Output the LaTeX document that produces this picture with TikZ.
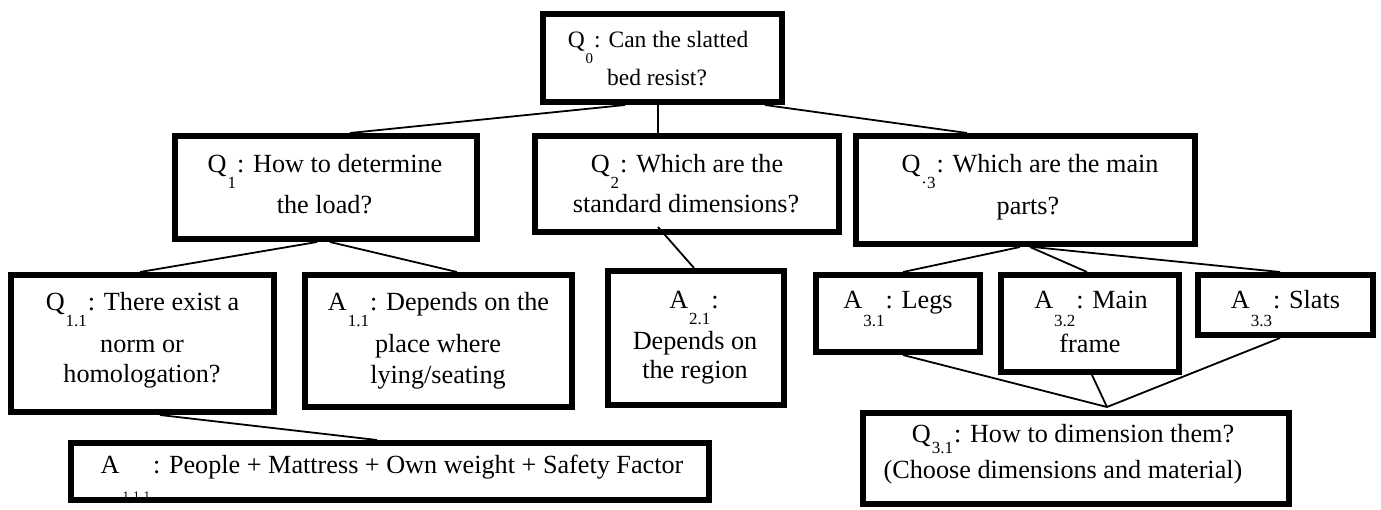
\documentclass[tikz,border=0pt]{standalone}
\usepackage{fontspec}
\setmainfont{Liberation Serif}
\usetikzlibrary{calc}
\newcommand\mainfs{\fontsize{26.2}{30}\selectfont}
\newcommand\topfs{\fontsize{23.5}{28}\selectfont}
\newcommand\sbx[2][16pt]{\kern1pt\raisebox{-#1}[0pt][0pt]{\fontsize{17}{17}\selectfont #2}\kern1pt}
\newcommand\sbxs[1]{\kern1pt\raisebox{-16pt}[0pt][0pt]{\fontsize{15}{15}\selectfont #1}\kern1pt}
\newcommand\sbxl[1]{\kern3pt\raisebox{-27pt}[0pt][0pt]{\fontsize{13}{13}\selectfont #1}\kern3pt}
\tikzset{
  box/.style={draw=black, line width=6pt, inner sep=0pt, outer sep=3pt, anchor=north west},
  tx/.style={anchor=base, inner sep=0pt, font=\mainfs},
  conn/.style={draw=black, line width=1.8pt}
}
\begin{document}
\begin{tikzpicture}[x=1pt,y=-1pt]
\useasboundingbox (0,0) rectangle (1381,509);
% texts
\node[tx, font=\topfs] (q0a) at (658,47) {Q\sbxs{0}: Can the slatted};
\node[tx, font=\topfs] (q0b) at (657,85) {bed resist?};
\node[tx] (q1a) at (325,172) {Q\sbx{1}: How to determine};
\node[tx] (q1b) at (324.5,213) {the load?};
\node[tx] (q2a) at (687,172) {Q\sbx{2}: Which are the};
\node[tx] (q2b) at (686,212) {standard dimensions?};
\node[tx] (q3a) at (1030,172) {Q\sbx{·3}: Which are the main};
\node[tx] (q3b) at (1028,214) {parts?};
\node[tx] (q11a) at (142.5,310) {Q\sbx{1.1}: There exist a};
\node[tx] (q11b) at (142,352) {norm or};
\node[tx] (q11c) at (142,382) {homologation?};
\node[tx] (a11a) at (438.5,310) {A\sbx{1.1}: Depends on the};
\node[tx] (a11b) at (438,352) {place where};
\node[tx] (a11c) at (438,383) {lying/seating};
\node[tx] (a21a) at (694,308) {A\sbx{2.1}:};
\node[tx] (a21b) at (695,349) {Depends on};
\node[tx] (a21c) at (695,378) {the region};
\node[tx] (a31a) at (898,308) {A\sbx[18pt]{3.1}: Legs};
\node[tx] (a32a) at (1091,308) {A\sbx[18pt]{3.2}: Main};
\node[tx] (a32b) at (1090,352) {frame};
\node[tx] (a33a) at (1285.5,308) {A\sbx[18pt]{3.3}: Slats};
\node[tx] (a111a) at (392,473) {A\sbxl{1\kern4pt 1\kern4pt 1}: People + Mattress + Own weight + Safety Factor};
\node[tx] (q31a) at (1073,442) {Q\sbx[11pt]{3.1}: How to dimension them?};
\node[tx] (q31b) at (1063,478) {(Choose dimensions and material)};
% boxes
\node[box, minimum width=239pt, minimum height=88pt] (q0) at (540,11) {};
\node[box, minimum width=302pt, minimum height=103pt] (q1) at (172,133) {};
\node[box, minimum width=304pt, minimum height=96pt] (q2) at (532,133) {};
\node[box, minimum width=339pt, minimum height=108pt] (q3) at (853,133) {};
\node[box, minimum width=263pt, minimum height=137pt] (q11) at (8,272) {};
\node[box, minimum width=267pt, minimum height=132pt] (a11) at (302,272) {};
\node[box, minimum width=176pt, minimum height=134pt] (a21) at (605,268) {};
\node[box, minimum width=164pt, minimum height=77pt] (a31) at (813,272) {};
\node[box, minimum width=178pt, minimum height=97pt] (a32) at (998,272) {};
\node[box, minimum width=175pt, minimum height=60pt] (a33) at (1195,272) {};
\node[box, minimum width=638pt, minimum height=57pt] (a111) at (68,440) {};
\node[box, minimum width=426pt, minimum height=91pt] (q31) at (860,410) {};
\coordinate (m31) at (1107,407);
% connectors
\draw[conn] (q0.south -| 625,0) -- (q1.north -| 350,0);
\draw[conn] (q0.south -| 658,0) -- (q2.north -| 658,0);
\draw[conn] (q0.south -| 765,0) -- (q3.north -| 967,0);
\draw[conn] (q1.south -| 317,0) -- (q11.north -| 140,0);
\draw[conn] (q1.south -| 330,0) -- (a11.north -| 457,0);
\draw[conn] ($(q2.south -| 658,0)+(0,-8)$) -- (a21.north -| 694,0);
\draw[conn] (q11.south -| 160,0) -- (a111.north -| 377,0);
\draw[conn] (q3.south -| 1020,0) -- (a31.north -| 903,0);
\draw[conn] (q3.south -| 1030,0) -- (a32.north -| 1087,0);
\draw[conn] (q3.south -| 1033,0) -- (a33.north -| 1280,0);
\draw[conn] (a31.south -| 903,0) -- (m31);
\draw[conn] (a32.south -| 1092,0) -- (m31);
\draw[conn] (a33.south -| 1280,0) -- (m31);
\end{tikzpicture}
\end{document}
